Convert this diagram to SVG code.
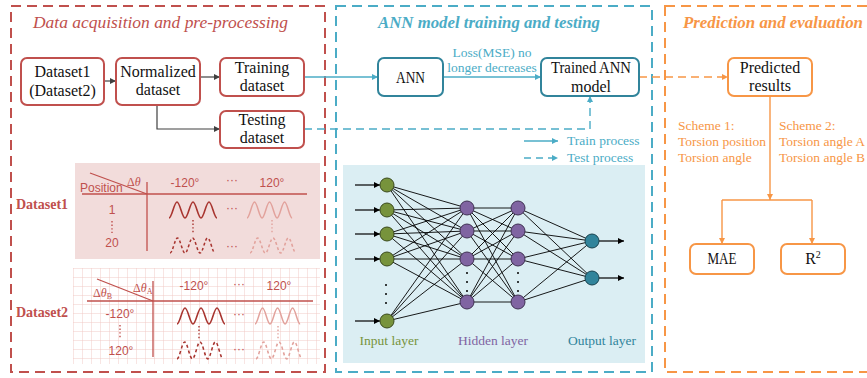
<svg xmlns="http://www.w3.org/2000/svg" xmlns:xlink="http://www.w3.org/1999/xlink" width="867" height="378" viewBox="0 0 867 378">
  <style>
    .serif { font-family: "Liberation Serif", "Times New Roman", serif; }
    .sans { font-family: "Liberation Sans", Arial, sans-serif; }
    .panel { fill: none; stroke-width: 2; stroke-dasharray: 10 6; }
    .title { font-size: 17px; font-style: italic; }
    .box-red { fill: #fff; stroke: #c0504d; stroke-width: 2; }
    .box-blue { fill: #fff; stroke: #31849b; stroke-width: 2; }
    .box-orange { fill: #fff; stroke: #f79646; stroke-width: 2; }
    .btxt { font-size: 16px; fill: #111; text-anchor: middle; }
    .red { fill: #c0504d; }
    .tbl { font-size: 12px; fill: #c0504d; }
    .tline { stroke: #c0504d; stroke-width: 1.3; fill: none; }
    .wave-d { fill: none; stroke: #a8342f; stroke-width: 1.6; }
    .wave-l { fill: none; stroke: #e2a29c; stroke-width: 1.6; }
    .dash { stroke-dasharray: 3 2.5; }
    .vdot { stroke-width: 1.4; stroke-dasharray: 1.4 2.2; fill: none; }
    .nn { stroke: #000; stroke-width: 0.9; fill: none; }
    .in { fill: #77933c; stroke: #3a4a1c; stroke-width: 1; }
    .hid { fill: #8064a2; stroke: #3f3152; stroke-width: 1; }
    .out { fill: #31849b; stroke: #18424e; stroke-width: 1; }
    .blue-t { fill: #4bacc6; font-size: 13.5px; }
    .orange-t { fill: #f79646; font-size: 13.5px; }
  </style>
  <defs>
    <marker id="ah-gray" markerUnits="userSpaceOnUse" markerWidth="7" markerHeight="7" refX="6" refY="3" orient="auto">
      <path d="M0,0 L6,3 L0,6 z" fill="#404040"/>
    </marker>
    <marker id="ah-blue" markerUnits="userSpaceOnUse" markerWidth="7" markerHeight="7" refX="6" refY="3" orient="auto">
      <path d="M0,0 L6,3 L0,6 z" fill="#4bacc6"/>
    </marker>
    <marker id="ah-orange" markerUnits="userSpaceOnUse" markerWidth="7" markerHeight="7" refX="6" refY="3" orient="auto">
      <path d="M0,0 L6,3 L0,6 z" fill="#f79646"/>
    </marker>
    <marker id="ah-black" markerUnits="userSpaceOnUse" markerWidth="7" markerHeight="7" refX="6" refY="3" orient="auto">
      <path d="M0,0 L6,3 L0,6 z" fill="#000"/>
    </marker>
    <pattern id="grid" patternUnits="userSpaceOnUse" x="73" y="268" width="9" height="9">
      <path d="M9,0 L0,0 L0,9" fill="none" stroke="#efc6c2" stroke-width="0.9"/>
    </pattern>
    <!-- three-hump sine trace, 48 x 16 -->
    <path id="wave" d="M0,16 C2.9,16 5.1,0 8,0 C10.9,0 13.1,16 16,16 C18.9,16 21.1,0 24,0 C26.9,0 29.1,16 32,16 C34.9,16 37.1,0 40,0 C42.9,0 45.1,16 48,16"/>
  </defs>

  <rect width="867" height="378" fill="#fff"/>

  <!-- stage panels -->
  <g id="panel-data">
    <rect class="panel" x="11" y="6" width="314" height="366" stroke="#c0504d"/>
    <text class="serif title red" x="33" y="28" textLength="255" lengthAdjust="spacingAndGlyphs">Data acquisition and pre-processing</text>
  </g>
  <g id="panel-ann">
    <rect class="panel" x="336" y="6" width="316" height="366" stroke="#4bacc6"/>
    <text class="serif title" x="378" y="28" fill="#4bacc6" font-weight="bold" textLength="222" lengthAdjust="spacingAndGlyphs">ANN model training and testing</text>
  </g>
  <g id="panel-eval">
    <rect class="panel" x="665" y="6" width="215" height="366" stroke="#f79646"/>
    <text class="serif title" x="683" y="28" fill="#f79646" font-weight="bold" textLength="180" lengthAdjust="spacingAndGlyphs">Prediction and evaluation</text>
  </g>

  <!-- connectors -->
  <g id="connectors" fill="none">
    <path d="M104,81 H116" stroke="#404040" stroke-width="1.2" marker-end="url(#ah-gray)"/>
    <path d="M200,77 H220" stroke="#404040" stroke-width="1.2" marker-end="url(#ah-gray)"/>
    <path d="M157,105 V129 H220" stroke="#404040" stroke-width="1.2" marker-end="url(#ah-gray)"/>
    <path d="M304,77 H378" stroke="#4bacc6" stroke-width="1.4" marker-end="url(#ah-blue)"/>
    <path d="M443,77 H541" stroke="#4bacc6" stroke-width="1.4" marker-end="url(#ah-blue)"/>
    <path d="M304,129 H590 V96" stroke="#4bacc6" stroke-width="1.4" stroke-dasharray="8 5" marker-end="url(#ah-blue)"/>
    <path d="M639,77 H728" stroke="#f79646" stroke-width="1.4" stroke-dasharray="8 5" marker-end="url(#ah-orange)"/>
    <path d="M770,96 V200" stroke="#f79646" stroke-width="1.4" marker-end="url(#ah-orange)"/>
    <path d="M722,200 H812" stroke="#f79646" stroke-width="1.4"/>
    <path d="M722,200 V244" stroke="#f79646" stroke-width="1.4" marker-end="url(#ah-orange)"/>
    <path d="M812,200 V244" stroke="#f79646" stroke-width="1.4" marker-end="url(#ah-orange)"/>
  </g>

  <!-- processing boxes -->
  <g id="node-dataset">
    <rect class="box-red" x="21" y="58" width="83" height="47" rx="6"/>
    <text class="serif btxt" x="62.5" y="77">Dataset1</text>
    <text class="serif btxt" x="62.5" y="96">(Dataset2)</text>
  </g>
  <g id="node-normalized">
    <rect class="box-red" x="116" y="58" width="84" height="47" rx="6"/>
    <text class="serif btxt" x="158" y="77">Normalized</text>
    <text class="serif btxt" x="158" y="95">dataset</text>
  </g>
  <g id="node-training">
    <rect class="box-red" x="220" y="58" width="84" height="38" rx="6"/>
    <text class="serif btxt" x="262" y="73">Training</text>
    <text class="serif btxt" x="262" y="91">dataset</text>
  </g>
  <g id="node-testing">
    <rect class="box-red" x="220" y="111" width="84" height="37" rx="6"/>
    <text class="serif btxt" x="262" y="125">Testing</text>
    <text class="serif btxt" x="262" y="143">dataset</text>
  </g>
  <g id="node-ann">
    <rect class="box-blue" x="378" y="58" width="65" height="38" rx="6"/>
    <text class="serif btxt" x="410.5" y="83" textLength="29" lengthAdjust="spacingAndGlyphs">ANN</text>
  </g>
  <g id="label-loss">
    <text class="serif blue-t" x="492" y="57" text-anchor="middle">Loss(MSE) no</text>
    <text class="serif blue-t" x="492" y="72" text-anchor="middle">longer decreases</text>
  </g>
  <g id="node-trained">
    <rect class="box-blue" x="541" y="58" width="98" height="38" rx="6"/>
    <text class="serif btxt" x="591" y="73" textLength="80" lengthAdjust="spacingAndGlyphs">Trained ANN</text>
    <text class="serif btxt" x="591" y="92">model</text>
  </g>
  <g id="legend">
    <path d="M524,141 H558" stroke="#4bacc6" stroke-width="1.3" marker-end="url(#ah-blue)"/>
    <text class="serif blue-t" x="567" y="145">Train process</text>
    <path d="M524,158 H558" stroke="#4bacc6" stroke-width="1.3" stroke-dasharray="7 5" marker-end="url(#ah-blue)"/>
    <text class="serif blue-t" x="567" y="162">Test process</text>
  </g>
  <g id="node-predicted">
    <rect class="box-orange" x="728" y="58" width="84" height="38" rx="6"/>
    <text class="serif btxt" x="770" y="73">Predicted</text>
    <text class="serif btxt" x="770" y="91">results</text>
  </g>
  <g id="label-schemes">
    <text class="serif orange-t" x="678" y="130">Scheme 1:</text>
    <text class="serif orange-t" x="678" y="146">Torsion position</text>
    <text class="serif orange-t" x="678" y="162">Torsion angle</text>
    <text class="serif orange-t" x="779" y="130">Scheme 2:</text>
    <text class="serif orange-t" x="779" y="146">Torsion angle A</text>
    <text class="serif orange-t" x="779" y="162">Torsion angle B</text>
  </g>
  <g id="node-mae">
    <rect class="box-orange" x="690" y="244" width="64" height="30" rx="6"/>
    <text class="serif btxt" x="722" y="264" textLength="29" lengthAdjust="spacingAndGlyphs">MAE</text>
  </g>
  <g id="node-r2">
    <rect class="box-orange" x="781" y="244" width="64" height="30" rx="6"/>
    <text class="serif btxt" x="813" y="264">R<tspan font-size="10" dy="-6">2</tspan></text>
  </g>

  <!-- Dataset1 table -->
  <g id="table-dataset1">
    <text class="serif red" x="16" y="209" font-size="14" font-weight="bold">Dataset1</text>
    <rect x="75" y="163" width="245" height="96" fill="#f2dcdb"/>
    <line class="tline" x1="90" y1="173" x2="147" y2="194"/>
    <line class="tline" x1="147" y1="182" x2="147" y2="251"/>
    <line class="tline" x1="82" y1="194" x2="307" y2="194"/>
    <text class="serif tbl" x="127" y="186" font-size="13">Δ<tspan font-style="italic">θ</tspan></text>
    <text class="sans tbl" x="80" y="192">Position</text>
    <text class="sans tbl" x="185" y="187" text-anchor="middle">-120°</text>
    <text class="sans tbl" x="232" y="184" text-anchor="middle">···</text>
    <text class="sans tbl" x="272" y="187" text-anchor="middle">120°</text>
    <text class="sans tbl" x="112" y="214" text-anchor="middle">1</text>
    <line class="vdot" x1="112" y1="221" x2="112" y2="233" stroke="#c0504d"/>
    <text class="sans tbl" x="112" y="247" text-anchor="middle">20</text>
    <use xlink:href="#wave" class="wave-d" transform="translate(169,202)"/>
    <text class="sans tbl" x="232" y="212" text-anchor="middle">···</text>
    <use xlink:href="#wave" class="wave-l" transform="translate(247,202) scale(0.94,1)"/>
    <line class="vdot" x1="193" y1="220" x2="193" y2="233" stroke="#a8342f"/>
    <line class="vdot" x1="272" y1="220" x2="272" y2="233" stroke="#e2a29c"/>
    <use xlink:href="#wave" class="wave-d dash" transform="translate(170,238) scale(0.94,0.94)"/>
    <text class="sans tbl" x="232" y="250" text-anchor="middle">···</text>
    <use xlink:href="#wave" class="wave-l dash" transform="translate(250,238) scale(0.96,0.94)"/>
  </g>

  <!-- Dataset2 table -->
  <g id="table-dataset2">
    <text class="serif red" x="16" y="317" font-size="14" font-weight="bold">Dataset2</text>
    <rect x="73" y="268" width="247" height="96" fill="url(#grid)"/>
    <line class="tline" x1="97" y1="279" x2="153" y2="301"/>
    <line class="tline" x1="153" y1="281" x2="153" y2="357"/>
    <line class="tline" x1="87" y1="301" x2="313" y2="301"/>
    <text class="serif tbl" x="133" y="292" font-size="13">Δ<tspan font-style="italic">θ</tspan><tspan font-size="8" dy="2">A</tspan></text>
    <text class="serif tbl" x="93" y="297" font-size="13">Δ<tspan font-style="italic">θ</tspan><tspan font-size="8" dy="2">B</tspan></text>
    <text class="sans tbl" x="194" y="290" text-anchor="middle">-120°</text>
    <text class="sans tbl" x="239" y="288" text-anchor="middle">···</text>
    <text class="sans tbl" x="279" y="290" text-anchor="middle">120°</text>
    <text class="sans tbl" x="120" y="318" text-anchor="middle">-120°</text>
    <line class="vdot" x1="120" y1="325" x2="120" y2="338" stroke="#c0504d"/>
    <text class="sans tbl" x="121" y="355" text-anchor="middle">120°</text>
    <use xlink:href="#wave" class="wave-d" transform="translate(177,308)"/>
    <text class="sans tbl" x="239" y="318" text-anchor="middle">···</text>
    <use xlink:href="#wave" class="wave-l" transform="translate(255,308) scale(0.94,1)"/>
    <line class="vdot" x1="199" y1="326" x2="199" y2="340" stroke="#a8342f"/>
    <line class="vdot" x1="278" y1="326" x2="278" y2="340" stroke="#e2a29c"/>
    <use xlink:href="#wave" class="wave-d dash" transform="translate(177,342) scale(0.96,1.05)"/>
    <text class="sans tbl" x="239" y="353" text-anchor="middle">···</text>
    <use xlink:href="#wave" class="wave-l dash" transform="translate(256,342) scale(0.96,1.05)"/>
  </g>

  <!-- neural network sketch -->
  <g id="ann-network">
    <rect x="343" y="165" width="302" height="198" fill="#dbeef3"/>
    <g class="nn">
      <!-- input -> hidden 1 -->
      <path d="M387,185 L467,208 M387,185 L467,231 M387,185 L467,259 M387,185 L467,302
               M387,210 L467,208 M387,210 L467,231 M387,210 L467,259 M387,210 L467,302
               M387,234 L467,208 M387,234 L467,231 M387,234 L467,259 M387,234 L467,302
               M387,259 L467,208 M387,259 L467,231 M387,259 L467,259 M387,259 L467,302
               M387,321 L467,208 M387,321 L467,231 M387,321 L467,259 M387,321 L467,302"/>
      <!-- hidden 1 -> hidden 2 -->
      <path d="M467,208 L518,208 M467,208 L518,231 M467,208 L518,259 M467,208 L518,302
               M467,231 L518,208 M467,231 L518,231 M467,231 L518,259 M467,231 L518,302
               M467,259 L518,208 M467,259 L518,231 M467,259 L518,259 M467,259 L518,302
               M467,302 L518,208 M467,302 L518,231 M467,302 L518,259 M467,302 L518,302"/>
      <!-- hidden 2 -> output -->
      <path d="M518,208 L592,241 M518,208 L592,278 M518,231 L592,241 M518,231 L592,278
               M518,259 L592,241 M518,259 L592,278 M518,302 L592,241 M518,302 L592,278"/>
    </g>
    <g stroke="#000" stroke-width="1.2">
      <line x1="355" y1="185" x2="380" y2="185" marker-end="url(#ah-black)"/>
      <line x1="355" y1="210" x2="380" y2="210" marker-end="url(#ah-black)"/>
      <line x1="355" y1="234" x2="380" y2="234" marker-end="url(#ah-black)"/>
      <line x1="355" y1="259" x2="380" y2="259" marker-end="url(#ah-black)"/>
      <line x1="355" y1="321" x2="380" y2="321" marker-end="url(#ah-black)"/>
      <line x1="599" y1="241" x2="624" y2="241" marker-end="url(#ah-black)"/>
      <line x1="599" y1="278" x2="624" y2="278" marker-end="url(#ah-black)"/>
    </g>
    <g class="in">
      <circle cx="387" cy="185" r="7"/>
      <circle cx="387" cy="210" r="7"/>
      <circle cx="387" cy="234" r="7"/>
      <circle cx="387" cy="259" r="7"/>
      <circle cx="387" cy="321" r="7"/>
    </g>
    <g class="hid">
      <circle cx="467" cy="208" r="7"/>
      <circle cx="467" cy="231" r="7"/>
      <circle cx="467" cy="259" r="7"/>
      <circle cx="467" cy="302" r="7"/>
      <circle cx="518" cy="208" r="7"/>
      <circle cx="518" cy="231" r="7"/>
      <circle cx="518" cy="259" r="7"/>
      <circle cx="518" cy="302" r="7"/>
    </g>
    <g class="out">
      <circle cx="592" cy="241" r="7"/>
      <circle cx="592" cy="278" r="7"/>
    </g>
    <g fill="#000">
      <circle cx="386" cy="285" r="1"/>
      <circle cx="386" cy="294" r="1"/>
      <circle cx="386" cy="303" r="1"/>
      <circle cx="467" cy="273" r="1"/>
      <circle cx="467" cy="282" r="1"/>
      <circle cx="467" cy="291" r="1"/>
      <circle cx="518" cy="273" r="1"/>
      <circle cx="518" cy="282" r="1"/>
      <circle cx="518" cy="291" r="1"/>
    </g>
    <text class="serif" x="389" y="345" font-size="13.5" fill="#77933c" text-anchor="middle">Input layer</text>
    <text class="serif" x="493" y="345" font-size="13.5" fill="#8064a2" text-anchor="middle">Hidden layer</text>
    <text class="serif" x="602" y="345" font-size="13.5" fill="#31849b" text-anchor="middle">Output layer</text>
  </g>
</svg>
